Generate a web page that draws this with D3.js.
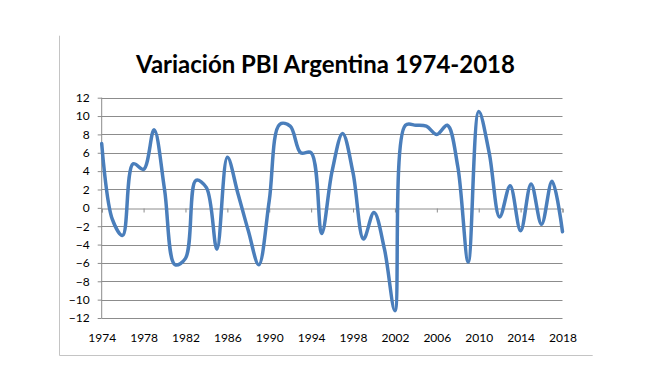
<!DOCTYPE html>
<html>
<head>
<meta charset="utf-8">
<script src="https://cdn.jsdelivr.net/npm/d3@7"></script>
<style>
  body { margin: 0; background: #fff; }
</style>
</head>
<body>
<div id="viz"></div>
<script>

const width = 650
const height = 375

// values
const years = d3.range(1974, 2019)
const growth = [
    7.0, -1.2, -3.0, 4.8, 4.2, 8.5, 2.0, -6.2, -5.5, 3.0,
    2.2, -4.5, 5.5, 1.6, -2.5, -6.2, 0.8, 9.1, 8.9, 6.0,
    6.0, -2.8, 4.0, 8.1, 3.8, -3.4, -0.5, -4.5, -11.2, 9.0,
    9.0, 8.9, 8.0, 9.0, 4.5, -5.9, 10.5, 6.0, -1.0, 2.4,
    -2.5, 2.6, -1.8, 2.9, -2.6
]
const yTicks = [-12, -10, -8, -6, -4, -2, 0, 2, 4, 6, 8, 10, 12]
const xTickYears = [1974, 1978, 1982, 1986, 1990, 1994, 1998, 2002, 2006, 2010, 2014, 2018]
const titleText = "Variación PBI Argentina 1974-2018"

const lineColor = "#4a7ebb"
const gridColor = "#8c8c8c"
const fontFamily = "Lato, 'Open Sans', sans-serif"

const plot = {left: 101.7, right: 562.5, top: 97.7, bottom: 318}

const svg = d3.select("#viz").append("svg").attr("width", width).attr("height", height)

// frame (only left and bottom edges visible)
svg.append("path").attr("d", "M59.5,35.7 L59.5,355.5 L592.7,355.5")
    .attr("fill", "none").attr("stroke", "#c4c4c4").attr("stroke-width", 1)

const xScale = d3.scaleLinear().domain([1974, 2018]).range([plot.left, plot.right])
const yScale = d3.scaleLinear().domain([-12, 12]).range([plot.bottom, plot.top])

// gridlines + y labels
const yAxis = d3.axisLeft(yScale).tickValues(yTicks).tickSize(4).tickPadding(8)
const yAxisGroup = svg.append("g").attr("transform", `translate(${plot.left}, 0)`).call(yAxis)
yAxisGroup.select(".domain").attr("stroke", gridColor).attr("d", `M0,${plot.top}V${plot.bottom}`)
yAxisGroup.selectAll("line").attr("stroke", gridColor)
yAxisGroup.selectAll("text").attr("fill", "#000").attr("font-size", 12).attr("font-family", fontFamily)

const gridGroup = svg.append("g")
gridGroup.selectAll("line").data(yTicks.filter(d => d != 0)).enter().append("line")
    .attr("x1", plot.left).attr("x2", plot.right)
    .attr("y1", d => Math.round(yScale(d)) + 0.5).attr("y2", d => Math.round(yScale(d)) + 0.5)
    .attr("stroke", gridColor).attr("stroke-width", 1)

// horizontal axis at zero with tick marks
const xAxisZero = d3.axisBottom(xScale).tickValues(xTickYears).tickSize(4).tickFormat("")
const xAxisZeroGroup = svg.append("g").attr("transform", `translate(0, ${Math.round(yScale(0)) + 0.5})`).call(xAxisZero)
xAxisZeroGroup.select(".domain").attr("stroke", gridColor)
xAxisZeroGroup.selectAll("line").attr("stroke", gridColor)

// year labels at the bottom
const xAxisLow = d3.axisBottom(xScale).tickValues(xTickYears).tickSize(0).tickPadding(15).tickFormat(d3.format("d"))
const xAxisLowGroup = svg.append("g").attr("transform", `translate(0, ${plot.bottom})`).call(xAxisLow)
xAxisLowGroup.select(".domain").remove()
xAxisLowGroup.selectAll("text").attr("fill", "#000").attr("font-size", 12).attr("font-family", fontFamily)

// the series
const line = d3.line().x((d, i) => xScale(years[i])).y(d => yScale(d)).curve(d3.curveCatmullRom.alpha(0.5))
svg.append("path").datum(growth)
    .attr("d", line)
    .attr("fill", "none").attr("stroke", lineColor).attr("stroke-width", 3.5)
    .attr("stroke-linejoin", "round").attr("stroke-linecap", "round")

// title
const title = svg.append("text").attr("x", 325.5).attr("y", 73).attr("text-anchor", "middle")
    .attr("font-family", fontFamily).attr("font-weight", "bold").attr("font-size", 26).attr("fill", "#000")
    .text(titleText)
const tw = title.node().getComputedTextLength()
title.attr("font-size", 26 * 379 / tw)

</script>
</body>
</html>
